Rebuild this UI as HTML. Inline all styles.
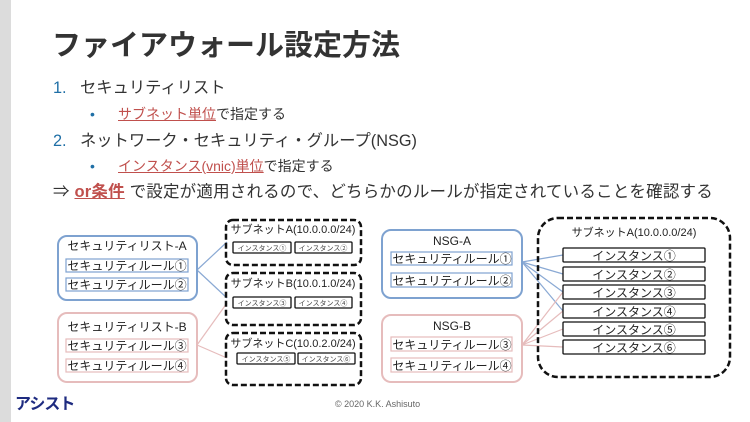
<!DOCTYPE html>
<html><head><meta charset="utf-8"><style>
body{margin:0;width:750px;height:422px;background:#fff;position:relative;overflow:hidden;font-family:"Liberation Sans","Noto Sans CJK JP",sans-serif;color:#333}
.a{position:absolute;white-space:nowrap}
.u{color:#c0504d;text-decoration:underline}
</style></head><body>
<div class="a" style="left:0;top:0;width:11px;height:422px;background:#dcdcdc"></div>
<div class="a" style="left:52px;top:30px;font-size:29px;font-weight:bold;color:#333;line-height:32px">ファイアウォール設定方法</div>
<div class="a" style="left:53px;top:77px;font-size:16.3px;line-height:22px"><span style="color:#1f6fa6">1.</span><span style="position:absolute;left:27px">セキュリティリスト</span></div>
<div class="a" style="left:90px;top:104px;font-size:14px;line-height:20px"><span style="color:#1f6fa6">•</span><span style="position:absolute;left:28px"><span class="u">サブネット単位</span>で指定する</span></div>
<div class="a" style="left:53px;top:130px;font-size:16.3px;line-height:22px"><span style="color:#1f6fa6">2.</span><span style="position:absolute;left:27px">ネットワーク・セキュリティ・グループ(NSG)</span></div>
<div class="a" style="left:90px;top:156px;font-size:14px;line-height:20px"><span style="color:#1f6fa6">•</span><span style="position:absolute;left:28px"><span class="u">インスタンス(vnic)単位</span>で指定する</span></div>
<div class="a" style="left:53px;top:181px;font-size:16.5px;line-height:22px;letter-spacing:0.2px">⇒ <b class="u">or条件</b> で設定が適用されるので、どちらかのルールが指定されていることを確認する</div>

<svg class="a" style="left:0;top:0" width="750" height="422" font-family="Liberation Sans, Noto Sans CJK JP, sans-serif">
<g stroke="#8aa9d4" stroke-width="1.2">
<line x1="197" y1="270" x2="227" y2="242"/><line x1="197" y1="270" x2="227" y2="298"/>
<line x1="522" y1="262" x2="563" y2="255"/><line x1="522" y1="262" x2="563" y2="274"/><line x1="522" y1="262" x2="563" y2="292"/><line x1="522" y1="262" x2="563" y2="311"/>
</g>
<g stroke="#e6bcbc" stroke-width="1.2">
<line x1="197" y1="345" x2="227" y2="303"/><line x1="197" y1="345" x2="227" y2="358"/>
<line x1="522" y1="345" x2="563" y2="292"/><line x1="522" y1="345" x2="563" y2="311"/><line x1="522" y1="345" x2="563" y2="329"/><line x1="522" y1="345" x2="563" y2="347"/>
</g>
<g fill="#fff" stroke-width="2">
<rect x="58" y="236" width="139" height="64" rx="9" stroke="#7ea2d0"/>
<rect x="58" y="313" width="139" height="69" rx="9" stroke="#e6bcbc"/>
<rect x="382" y="230" width="140" height="68" rx="9" stroke="#7ea2d0"/>
<rect x="382" y="315" width="140" height="67" rx="9" stroke="#e6bcbc"/>
</g>
<g fill="none" stroke="#111" stroke-width="2.5" stroke-dasharray="6,3">
<rect x="226" y="220" width="135" height="45" rx="7"/>
<rect x="226" y="273" width="135" height="52" rx="7"/>
<rect x="226" y="333" width="135" height="52" rx="7"/>
<rect x="538" y="218" width="192" height="159" rx="20"/>
</g>
<g fill="#fff" stroke-width="1.2">
<rect x="66" y="259" width="122" height="13" stroke="#7ea2d0"/>
<rect x="66" y="278" width="122" height="13" stroke="#7ea2d0"/>
<rect x="66" y="339" width="122" height="13" stroke="#e6bcbc"/>
<rect x="66" y="359" width="122" height="13" stroke="#e6bcbc"/>
<rect x="391" y="252" width="121" height="13" stroke="#7ea2d0"/>
<rect x="391" y="273" width="121" height="14" stroke="#7ea2d0"/>
<rect x="391" y="337" width="121" height="14" stroke="#e6bcbc"/>
<rect x="391" y="358" width="121" height="14" stroke="#e6bcbc"/>
</g>
<g fill="#fff" stroke="#111" stroke-width="1.3">
<rect x="233" y="242" width="58" height="11" rx="1"/><rect x="295" y="242" width="57" height="11" rx="1"/>
<rect x="233" y="297" width="58" height="11" rx="1"/><rect x="295" y="297" width="57" height="11" rx="1"/>
<rect x="237" y="353" width="58" height="11" rx="1"/><rect x="298" y="353" width="57" height="11" rx="1"/>
<rect x="563" y="248" width="142" height="14" rx="1"/><rect x="563" y="267" width="142" height="14" rx="1"/>
<rect x="563" y="285" width="142" height="14" rx="1"/><rect x="563" y="304" width="142" height="14" rx="1"/>
<rect x="563" y="322" width="142" height="14" rx="1"/><rect x="563" y="340" width="142" height="14" rx="1"/>
</g>
<g fill="#222" font-size="12" text-anchor="middle">
<text x="127" y="250">セキュリティリスト-A</text>
<text x="127" y="270">セキュリティルール①</text>
<text x="127" y="289">セキュリティルール②</text>
<text x="127" y="331">セキュリティリスト-B</text>
<text x="127" y="350">セキュリティルール③</text>
<text x="127" y="370">セキュリティルール④</text>
<text x="452" y="245">NSG-A</text>
<text x="452" y="263">セキュリティルール①</text>
<text x="452" y="285">セキュリティルール②</text>
<text x="452" y="330">NSG-B</text>
<text x="452" y="349">セキュリティルール③</text>
<text x="452" y="370">セキュリティルール④</text>
<text x="293" y="233" font-size="11">サブネットA(10.0.0.0/24)</text>
<text x="293" y="287" font-size="11">サブネットB(10.0.1.0/24)</text>
<text x="293" y="347" font-size="11">サブネットC(10.0.2.0/24)</text>
<text x="634" y="236" font-size="11">サブネットA(10.0.0.0/24)</text>
<text x="634" y="260">インスタンス①</text><text x="634" y="279">インスタンス②</text>
<text x="634" y="297">インスタンス③</text><text x="634" y="316">インスタンス④</text>
<text x="634" y="334">インスタンス⑤</text><text x="634" y="352">インスタンス⑥</text>
</g>
<g fill="#444" font-size="7" text-anchor="middle">
<text x="262" y="250.5">インスタンス①</text><text x="323" y="250.5">インスタンス②</text>
<text x="262" y="305.5">インスタンス③</text><text x="323" y="305.5">インスタンス④</text>
<text x="266" y="361.5">インスタンス⑤</text><text x="326" y="361.5">インスタンス⑥</text>
</g>
</svg>
<div class="a" style="left:15px;top:396px;font-size:16px;font-weight:bold;color:#1e2b80;line-height:18px;letter-spacing:-1px">アシスト</div>
<div class="a" style="left:335px;top:398px;font-size:9px;color:#666;line-height:12px">© 2020 K.K. Ashisuto</div>
</body></html>
